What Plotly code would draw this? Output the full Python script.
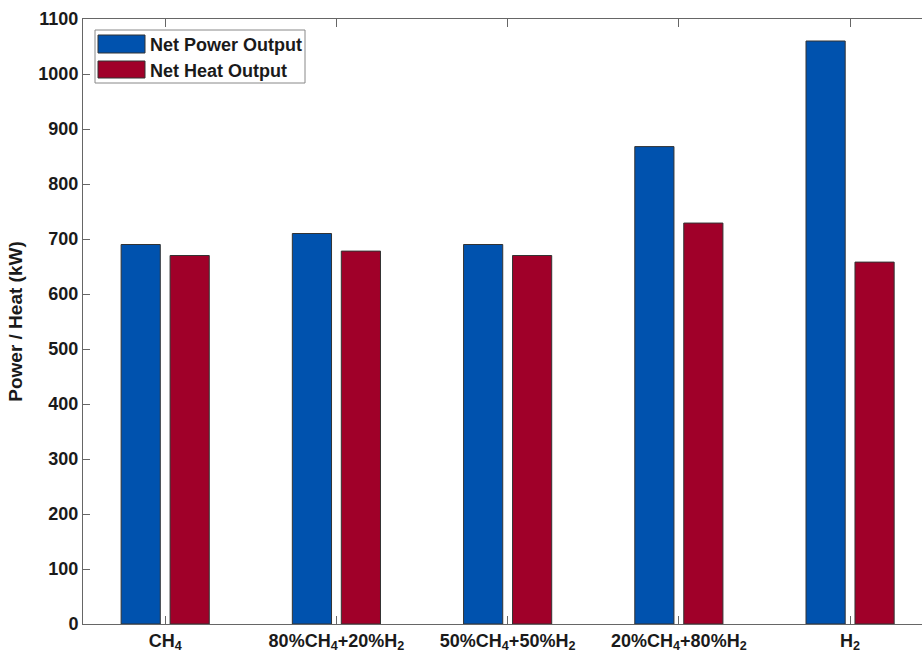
import plotly.graph_objects as go

categories = ["CH<sub>4</sub>", "80%CH<sub>4</sub>+20%H<sub>2</sub>", "50%CH<sub>4</sub>+50%H<sub>2</sub>",
              "20%CH<sub>4</sub>+80%H<sub>2</sub>", "H<sub>2</sub>"]
series_names = ["Net Power Output", "Net Heat Output"]
net_power = [690, 710, 690, 868, 1060]
net_heat = [670, 678, 670, 729, 658]
colors = ["#0052AE", "#A00029"]
y_ticks = list(range(0, 1101, 100))

W, H = 922, 656
L, R, T, B = 83, 0, 19, 32
pw, ph = W - L - R, H - T - B

def px_x(x):
    return (x - L) / pw

def px_y(y):
    return (H - B - y) / ph

x_pos = list(range(1, len(categories) + 1))
fig = go.Figure()
for name, vals, col in zip(series_names, [net_power, net_heat], colors):
    fig.add_trace(go.Bar(x=x_pos, y=vals, name=name, marker=dict(color=col, line=dict(color="#333333", width=1)),
                         showlegend=False))

font = dict(family="Liberation Sans, Arial, sans-serif", size=18, color="#1a1a1a", weight="bold")
fig.update_layout(
    width=W, height=H, margin=dict(l=L, r=R, t=T, b=B, autoexpand=False),
    plot_bgcolor="white", paper_bgcolor="white",
    barmode="group", bargap=0.428, bargroupgap=0.2,
    font=font,
    xaxis=dict(range=[0.52, 5.42], tickvals=x_pos, ticktext=categories, ticks="inside", ticklen=8,
               tickcolor="#666666", showline=True, linecolor="#666666", linewidth=1, mirror="ticks",
               showgrid=False, zeroline=False, tickfont=font, automargin=False),
    yaxis=dict(range=[0, 1100], tickvals=y_ticks, ticks="inside", ticklen=7, tickcolor="#666666",
               showline=True, linecolor="#666666", linewidth=1, showgrid=False, zeroline=False,
               tickfont=font, automargin=False,
               title=dict(text="Power / Heat (kW)", font=dict(family=font["family"], size=19, color="#1a1a1a", weight="bold"), standoff=10)),
)

# custom legend matching the reference swatch size
shapes = [dict(type="rect", xref="paper", yref="paper", x0=px_x(95), x1=px_x(305), y0=px_y(83), y1=px_y(30),
               line=dict(color="#888888", width=1), fillcolor="white", layer="above")]
anns = []
sw = [(35, 53), (61, 78)]
for (y0, y1), name, col in zip(sw, series_names, colors):
    shapes.append(dict(type="rect", xref="paper", yref="paper", x0=px_x(98), x1=px_x(145), y0=px_y(y1), y1=px_y(y0),
                       line=dict(color="#333333", width=1), fillcolor=col, layer="above"))
    anns.append(dict(xref="paper", yref="paper", x=px_x(148), y=px_y((y0 + y1) / 2 + 1), text=name, showarrow=False,
                     xanchor="left", yanchor="middle", font=font))
fig.update_layout(shapes=shapes, annotations=anns)

fig.write_html("out.html", config={"displayModeBar": False},
               post_script="document.body.style.margin='0';document.body.style.overflow='hidden';")
